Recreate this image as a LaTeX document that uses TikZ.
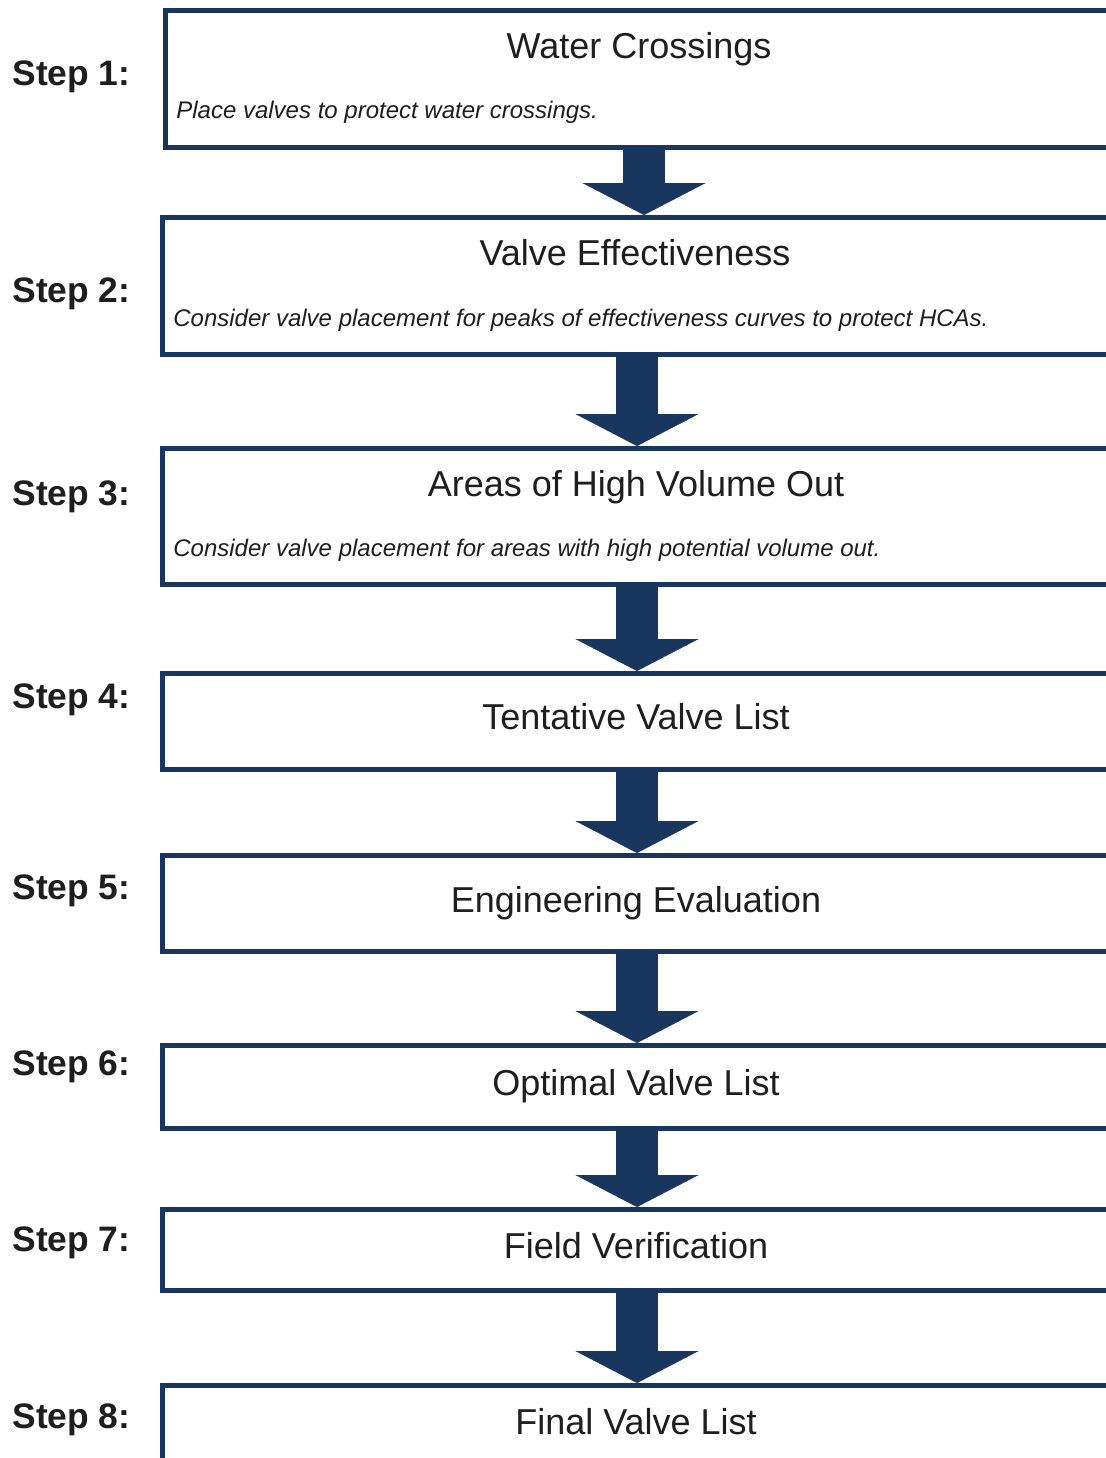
\documentclass[tikz,border=0pt]{standalone}
\usepackage{fontspec}
\setmainfont{Liberation Sans}
\usetikzlibrary{arrows.meta, positioning}
\definecolor{navy}{RGB}{24,54,94}
\definecolor{ink}{RGB}{30,30,30}
\tikzset{
    stepbox/.style={rectangle, draw=navy, line width=2.4pt, fill=white, anchor=north west, minimum width=520pt, inner sep=0pt},
    steplabel/.style={anchor=base west, inner sep=0pt, text=ink, font=\fontsize{17.7}{20}\selectfont\bfseries},
    boxtitle/.style={anchor=base, inner sep=0pt, text=ink, font=\fontsize{18}{21}\selectfont},
    boxnote/.style={anchor=base west, inner sep=0pt, text=ink, font=\fontsize{12}{14}\selectfont\itshape},
    flow/.style={draw=navy, line width=21pt, -{Triangle[length=16pt, width=61.5pt, line width=0.1pt]}},
}

\begin{document}
\begin{tikzpicture}[x=0.5pt, y=-0.5pt]
    \clip (0,0) rectangle (1106,1458);

    % boxes
    \node[stepbox, minimum height=68.5pt] (crossings) at (163,8) {};
    \node[stepbox, minimum height=68.5pt] (effective) at (160,215) {};
    \node[stepbox, minimum height=68pt] (volume) at (160,446) {};
    \node[stepbox, minimum height=48pt] (tentative) at (160,671) {};
    \node[stepbox, minimum height=48pt] (evaluation) at (160,853) {};
    \node[stepbox, minimum height=41.5pt] (optimal) at (160,1043) {};
    \node[stepbox, minimum height=40.5pt] (verification) at (160,1207) {};
    \node[stepbox, minimum height=50pt] (final) at (160,1383) {};

    % step labels
    \node[steplabel] (step1) at (12,85) {Step 1:};
    \node[steplabel] (step2) at (12,302) {Step 2:};
    \node[steplabel] (step3) at (12,505) {Step 3:};
    \node[steplabel] (step4) at (12,708) {Step 4:};
    \node[steplabel] (step5) at (12,899) {Step 5:};
    \node[steplabel] (step6) at (12,1075) {Step 6:};
    \node[steplabel] (step7) at (12,1251) {Step 7:};
    \node[steplabel] (step8) at (12,1428) {Step 8:};

    % titles and notes
    \node[boxtitle] (crossingsT) at (639,58) {Water Crossings};
    \node[boxnote] (crossingsN) at (176,118) {Place valves to protect water crossings.};
    \node[boxtitle] (effectiveT) at (635,265) {Valve Effectiveness};
    \node[boxnote] (effectiveN) at (173,326) {Consider valve placement for peaks of effectiveness curves to protect HCAs.};
    \node[boxtitle] (volumeT) at (636,496) {Areas of High Volume Out};
    \node[boxnote] (volumeN) at (173,556) {Consider valve placement for areas with high potential volume out.};
    \node[boxtitle] (tentativeT) at (636,729) {Tentative Valve List};
    \node[boxtitle] (evaluationT) at (636,912) {Engineering Evaluation};
    \node[boxtitle] (optimalT) at (636,1095) {Optimal Valve List};
    \node[boxtitle] (verificationT) at (636,1258) {Field Verification};
    \node[boxtitle] (finalT) at (636,1434) {Final Valve List};

    % block arrows
    \draw[flow] (crossings.south -| 644,0) -- (effective.north -| 644,0);
    \draw[flow] (effective.south -| 637,0) -- (volume.north -| 637,0);
    \draw[flow] (volume.south -| 637,0) -- (tentative.north -| 637,0);
    \draw[flow] (tentative.south -| 637,0) -- (evaluation.north -| 637,0);
    \draw[flow] (evaluation.south -| 637,0) -- (optimal.north -| 637,0);
    \draw[flow] (optimal.south -| 637,0) -- (verification.north -| 637,0);
    \draw[flow] (verification.south -| 637,0) -- (final.north -| 637,0);
\end{tikzpicture}
\end{document}
